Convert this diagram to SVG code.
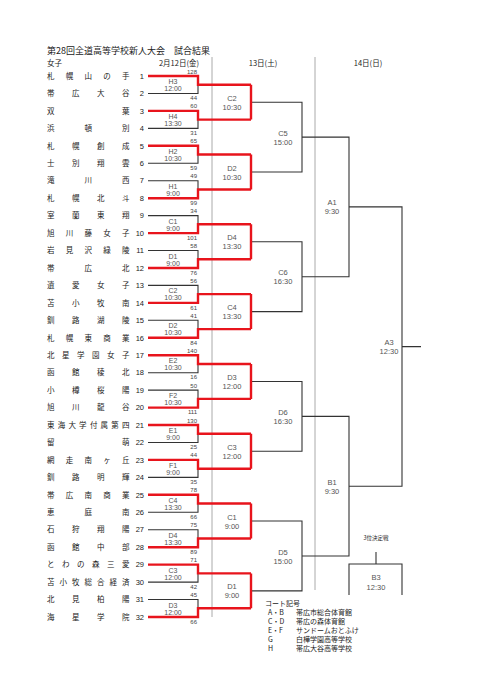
<svg xmlns="http://www.w3.org/2000/svg" width="481" height="680" viewBox="0 0 481 680">
<style>
text{font-family:'Noto Sans CJK JP',sans-serif;fill:#222}
.h{font-size:9px}
.hd{font-size:7.5px}
.t{font-size:7.5px}
.n{font-family:'Liberation Sans','Noto Sans CJK JP',sans-serif;font-size:7.5px;text-anchor:end}
.s{font-family:'Liberation Sans',sans-serif;font-size:6px;fill:#444;text-anchor:end}
.m{font-family:'Liberation Sans',sans-serif;font-size:7px;fill:#555;text-anchor:middle}
.m2{font-family:'Liberation Sans',sans-serif;font-size:7.5px;fill:#555;text-anchor:middle}
.lg{font-size:7px}
.r{stroke:#e8141c;stroke-width:2.4;fill:none}
.k{stroke:#333;stroke-width:1.1;fill:none}
.g{stroke:#aaa;stroke-width:1;fill:none}
</style>
<rect width="481" height="680" fill="#fff"/>
<g id="header">
<text class="h" x="47" y="54">第28回全道高等学校新人大会　試合結果</text>
<text class="hd" x="47" y="66">女子</text>
<text class="hd" x="199" y="65.5" text-anchor="end">2月12日(金)</text>
<text class="hd" x="263" y="65.5" text-anchor="middle">13日(土)</text>
<text class="hd" x="368" y="65.5" text-anchor="middle">14日(日)</text>
</g>
<g id="connectors">
<path class="g" d="M212,57V617M315,57V590"/>
<path class="k" d="M148,93.5H198V84.7M148,128.4H198V119.6M148,163.3H198V154.5M148,180.7H198V189.5M148,215.6H198V224.3M148,250.5H198V259.3M148,285.4H198V294.1M148,320.3H198V329.1M148,372.7H198V364M148,390.1H198V398.9M148,442.5H198V433.8M148,477.4H198V468.7M148,512.3H198V503.5M148,529.7H198V538.5M148,582.1H198V573.4M148,599.5H198V608.3"/>
<path class="k" d="M251,102.2H302V172H251M251,241.8H302V311.6H251M251,381.5H302V451.3H251M251,521H302V590.9H251"/>
<path class="k" d="M302,137.1H349V276.7H302M302,416.4H349V556H302"/>
<path class="k" d="M349,206.9H402V486.2H349M402,346.6H421"/>
<path class="k" d="M376,552V564M349,595V564H402V595"/>
<path class="r" d="M148,76H198V84.7H251M148,110.9H198V119.6H251M148,145.8H198V154.5H251M148,198.2H198V189.5H251M148,233.1H198V224.3H251M148,268H198V259.3H251M148,302.9H198V294.1H251M148,337.8H198V329.1H251M148,355.2H198V364H251M148,407.6H198V398.9H251M148,425H198V433.8H251M148,459.9H198V468.7H251M148,494.8H198V503.5H251M148,547.2H198V538.5H251M148,564.6H198V573.4H251M148,617H198V608.3H251"/>
<path class="r" d="M251,84.7V119.6M251,154.5V189.5M251,224.3V259.3M251,294.1V329.1M251,364V398.9M251,433.8V468.7M251,503.5V538.5M251,573.4V608.3"/>
</g>
<g id="teams">
<g id="team-1"><text class="t" x="47 65.75 84.5 103.25 122" y="78.7">札幌山の手</text><text class="n" x="144" y="78.7">1</text></g>
<g id="team-2"><text class="t" x="47 72 97 122" y="96.2">帯広大谷</text><text class="n" x="144" y="96.2">2</text></g>
<g id="team-3"><text class="t" x="47 122" y="113.6">双葉</text><text class="n" x="144" y="113.6">3</text></g>
<g id="team-4"><text class="t" x="47 84.5 122" y="131.1">浜頓別</text><text class="n" x="144" y="131.1">4</text></g>
<g id="team-5"><text class="t" x="47 72 97 122" y="148.5">札幌創成</text><text class="n" x="144" y="148.5">5</text></g>
<g id="team-6"><text class="t" x="47 72 97 122" y="166">士別翔雲</text><text class="n" x="144" y="166">6</text></g>
<g id="team-7"><text class="t" x="47 84.5 122" y="183.4">滝川西</text><text class="n" x="144" y="183.4">7</text></g>
<g id="team-8"><text class="t" x="47 72 97 122" y="200.9">札幌北斗</text><text class="n" x="144" y="200.9">8</text></g>
<g id="team-9"><text class="t" x="47 72 97 122" y="218.3">室蘭東翔</text><text class="n" x="144" y="218.3">9</text></g>
<g id="team-10"><text class="t" x="47 65.75 84.5 103.25 122" y="235.8">旭川藤女子</text><text class="n" x="144" y="235.8">10</text></g>
<g id="team-11"><text class="t" x="47 65.75 84.5 103.25 122" y="253.2">岩見沢緑陵</text><text class="n" x="144" y="253.2">11</text></g>
<g id="team-12"><text class="t" x="47 84.5 122" y="270.7">帯広北</text><text class="n" x="144" y="270.7">12</text></g>
<g id="team-13"><text class="t" x="47 72 97 122" y="288.1">遺愛女子</text><text class="n" x="144" y="288.1">13</text></g>
<g id="team-14"><text class="t" x="47 72 97 122" y="305.6">苫小牧南</text><text class="n" x="144" y="305.6">14</text></g>
<g id="team-15"><text class="t" x="47 72 97 122" y="323">釧路湖陵</text><text class="n" x="144" y="323">15</text></g>
<g id="team-16"><text class="t" x="47 65.75 84.5 103.25 122" y="340.5">札幌東商業</text><text class="n" x="144" y="340.5">16</text></g>
<g id="team-17"><text class="t" x="47 62 77 92 107 122" y="357.9">北星学園女子</text><text class="n" x="144" y="357.9">17</text></g>
<g id="team-18"><text class="t" x="47 72 97 122" y="375.4">函館稜北</text><text class="n" x="144" y="375.4">18</text></g>
<g id="team-19"><text class="t" x="47 72 97 122" y="392.8">小樽桜陽</text><text class="n" x="144" y="392.8">19</text></g>
<g id="team-20"><text class="t" x="47 72 97 122" y="410.3">旭川龍谷</text><text class="n" x="144" y="410.3">20</text></g>
<g id="team-21"><text class="t" x="47 57.7 68.4 79.1 89.9 100.6 111.3 122" y="427.7">東海大学付属第四</text><text class="n" x="144" y="427.7">21</text></g>
<g id="team-22"><text class="t" x="47 122" y="445.2">留萌</text><text class="n" x="144" y="445.2">22</text></g>
<g id="team-23"><text class="t" x="47 65.75 84.5 103.25 122" y="462.6">網走南ヶ丘</text><text class="n" x="144" y="462.6">23</text></g>
<g id="team-24"><text class="t" x="47 72 97 122" y="480.1">釧路明輝</text><text class="n" x="144" y="480.1">24</text></g>
<g id="team-25"><text class="t" x="47 65.75 84.5 103.25 122" y="497.5">帯広南商業</text><text class="n" x="144" y="497.5">25</text></g>
<g id="team-26"><text class="t" x="47 84.5 122" y="515">恵庭南</text><text class="n" x="144" y="515">26</text></g>
<g id="team-27"><text class="t" x="47 72 97 122" y="532.4">石狩翔陽</text><text class="n" x="144" y="532.4">27</text></g>
<g id="team-28"><text class="t" x="47 72 97 122" y="549.9">函館中部</text><text class="n" x="144" y="549.9">28</text></g>
<g id="team-29"><text class="t" x="47 62 77 92 107 122" y="567.3">とわの森三愛</text><text class="n" x="144" y="567.3">29</text></g>
<g id="team-30"><text class="t" x="47 59.5 72 84.5 97 109.5 122" y="584.8">苫小牧総合経済</text><text class="n" x="144" y="584.8">30</text></g>
<g id="team-31"><text class="t" x="47 72 97 122" y="602.2">北見柏陽</text><text class="n" x="144" y="602.2">31</text></g>
<g id="team-32"><text class="t" x="47 72 97 122" y="619.7">海星学院</text><text class="n" x="144" y="619.7">32</text></g>
</g>
<g id="round1">
<g id="m1"><text class="s" x="197" y="73.5">128</text><text class="s" x="197" y="100.2">44</text><text class="m" x="173" y="84">H3</text><text class="m" x="173" y="91">12:00</text></g>
<g id="m2"><text class="s" x="197" y="108.4">60</text><text class="s" x="197" y="135.1">31</text><text class="m" x="173" y="118.9">H4</text><text class="m" x="173" y="125.9">13:30</text></g>
<g id="m3"><text class="s" x="197" y="143.3">65</text><text class="s" x="197" y="170">59</text><text class="m" x="173" y="153.8">H2</text><text class="m" x="173" y="160.8">10:30</text></g>
<g id="m4"><text class="s" x="197" y="178.2">49</text><text class="s" x="197" y="204.9">99</text><text class="m" x="173" y="188.7">H1</text><text class="m" x="173" y="195.7">9:00</text></g>
<g id="m5"><text class="s" x="197" y="213.1">34</text><text class="s" x="197" y="239.8">101</text><text class="m" x="173" y="223.6">C1</text><text class="m" x="173" y="230.6">9:00</text></g>
<g id="m6"><text class="s" x="197" y="248">58</text><text class="s" x="197" y="274.7">76</text><text class="m" x="173" y="258.5">D1</text><text class="m" x="173" y="265.5">9:00</text></g>
<g id="m7"><text class="s" x="197" y="282.9">56</text><text class="s" x="197" y="309.6">61</text><text class="m" x="173" y="293.4">C2</text><text class="m" x="173" y="300.4">10:30</text></g>
<g id="m8"><text class="s" x="197" y="317.8">41</text><text class="s" x="197" y="344.5">84</text><text class="m" x="173" y="328.3">D2</text><text class="m" x="173" y="335.3">10:30</text></g>
<g id="m9"><text class="s" x="197" y="352.7">140</text><text class="s" x="197" y="379.4">16</text><text class="m" x="173" y="363.2">E2</text><text class="m" x="173" y="370.2">10:30</text></g>
<g id="m10"><text class="s" x="197" y="387.6">50</text><text class="s" x="197" y="414.3">111</text><text class="m" x="173" y="398.1">F2</text><text class="m" x="173" y="405.1">10:30</text></g>
<g id="m11"><text class="s" x="197" y="422.5">130</text><text class="s" x="197" y="449.2">25</text><text class="m" x="173" y="433">E1</text><text class="m" x="173" y="440">9:00</text></g>
<g id="m12"><text class="s" x="197" y="457.4">44</text><text class="s" x="197" y="484.1">35</text><text class="m" x="173" y="467.9">F1</text><text class="m" x="173" y="474.9">9:00</text></g>
<g id="m13"><text class="s" x="197" y="492.3">78</text><text class="s" x="197" y="519">66</text><text class="m" x="173" y="502.8">C4</text><text class="m" x="173" y="509.8">13:30</text></g>
<g id="m14"><text class="s" x="197" y="527.2">75</text><text class="s" x="197" y="553.9">89</text><text class="m" x="173" y="537.7">D4</text><text class="m" x="173" y="544.7">13:30</text></g>
<g id="m15"><text class="s" x="197" y="562.1">71</text><text class="s" x="197" y="588.8">42</text><text class="m" x="173" y="572.6">C3</text><text class="m" x="173" y="579.6">12:00</text></g>
<g id="m16"><text class="s" x="197" y="597">45</text><text class="s" x="197" y="623.7">66</text><text class="m" x="173" y="607.5">D3</text><text class="m" x="173" y="614.5">12:00</text></g>
</g>
<g id="round2">
<g id="r2a"><text class="m2" x="232" y="100.7">C2</text><text class="m2" x="232" y="109.7">10:30</text></g>
<g id="r2b"><text class="m2" x="232" y="170.5">D2</text><text class="m2" x="232" y="179.5">10:30</text></g>
<g id="r2c"><text class="m2" x="232" y="240.3">D4</text><text class="m2" x="232" y="249.3">13:30</text></g>
<g id="r2d"><text class="m2" x="232" y="310.1">C4</text><text class="m2" x="232" y="319.1">13:30</text></g>
<g id="r2e"><text class="m2" x="232" y="380">D3</text><text class="m2" x="232" y="389">12:00</text></g>
<g id="r2f"><text class="m2" x="232" y="449.8">C3</text><text class="m2" x="232" y="458.8">12:00</text></g>
<g id="r2g"><text class="m2" x="232" y="519.5">C1</text><text class="m2" x="232" y="528.5">9:00</text></g>
<g id="r2h"><text class="m2" x="232" y="589.4">D1</text><text class="m2" x="232" y="598.4">9:00</text></g>
</g>
<g id="round3">
<g id="r3a"><text class="m2" x="283" y="135.6">C5</text><text class="m2" x="283" y="144.6">15:00</text></g>
<g id="r3b"><text class="m2" x="283" y="275.2">C6</text><text class="m2" x="283" y="284.2">16:30</text></g>
<g id="r3c"><text class="m2" x="283" y="414.9">D6</text><text class="m2" x="283" y="423.9">16:30</text></g>
<g id="r3d"><text class="m2" x="283" y="554.5">D5</text><text class="m2" x="283" y="563.5">15:00</text></g>
</g>
<g id="round4">
<g id="a1"><text class="m2" x="332" y="205.4">A1</text><text class="m2" x="332" y="214.4">9:30</text></g>
<g id="b1"><text class="m2" x="332" y="484.7">B1</text><text class="m2" x="332" y="493.7">9:30</text></g>
<g id="a3"><text class="m2" x="389" y="345.1">A3</text><text class="m2" x="389" y="354.1">12:30</text></g>
<g id="b3"><text x="376" y="540" font-size="5.5" fill="#555" text-anchor="middle">3位決定戦</text><text class="m2" x="376" y="579.5">B3</text><text class="m2" x="376" y="589.5">12:30</text></g>
</g>
<g id="legend">
<text class="lg" x="265" y="606">コート記号</text>
<text class="lg" x="268" y="615">A・B</text><text class="lg" x="296" y="615">帯広市総合体育館</text>
<text class="lg" x="268" y="624">C・D</text><text class="lg" x="296" y="624">帯広の森体育館</text>
<text class="lg" x="268" y="633">E・F</text><text class="lg" x="296" y="633">サンドームおとふけ</text>
<text class="lg" x="268" y="642">G</text><text class="lg" x="296" y="642">白樺学園高等学校</text>
<text class="lg" x="268" y="651">H</text><text class="lg" x="296" y="651">帯広大谷高等学校</text>
</g>
</svg>
